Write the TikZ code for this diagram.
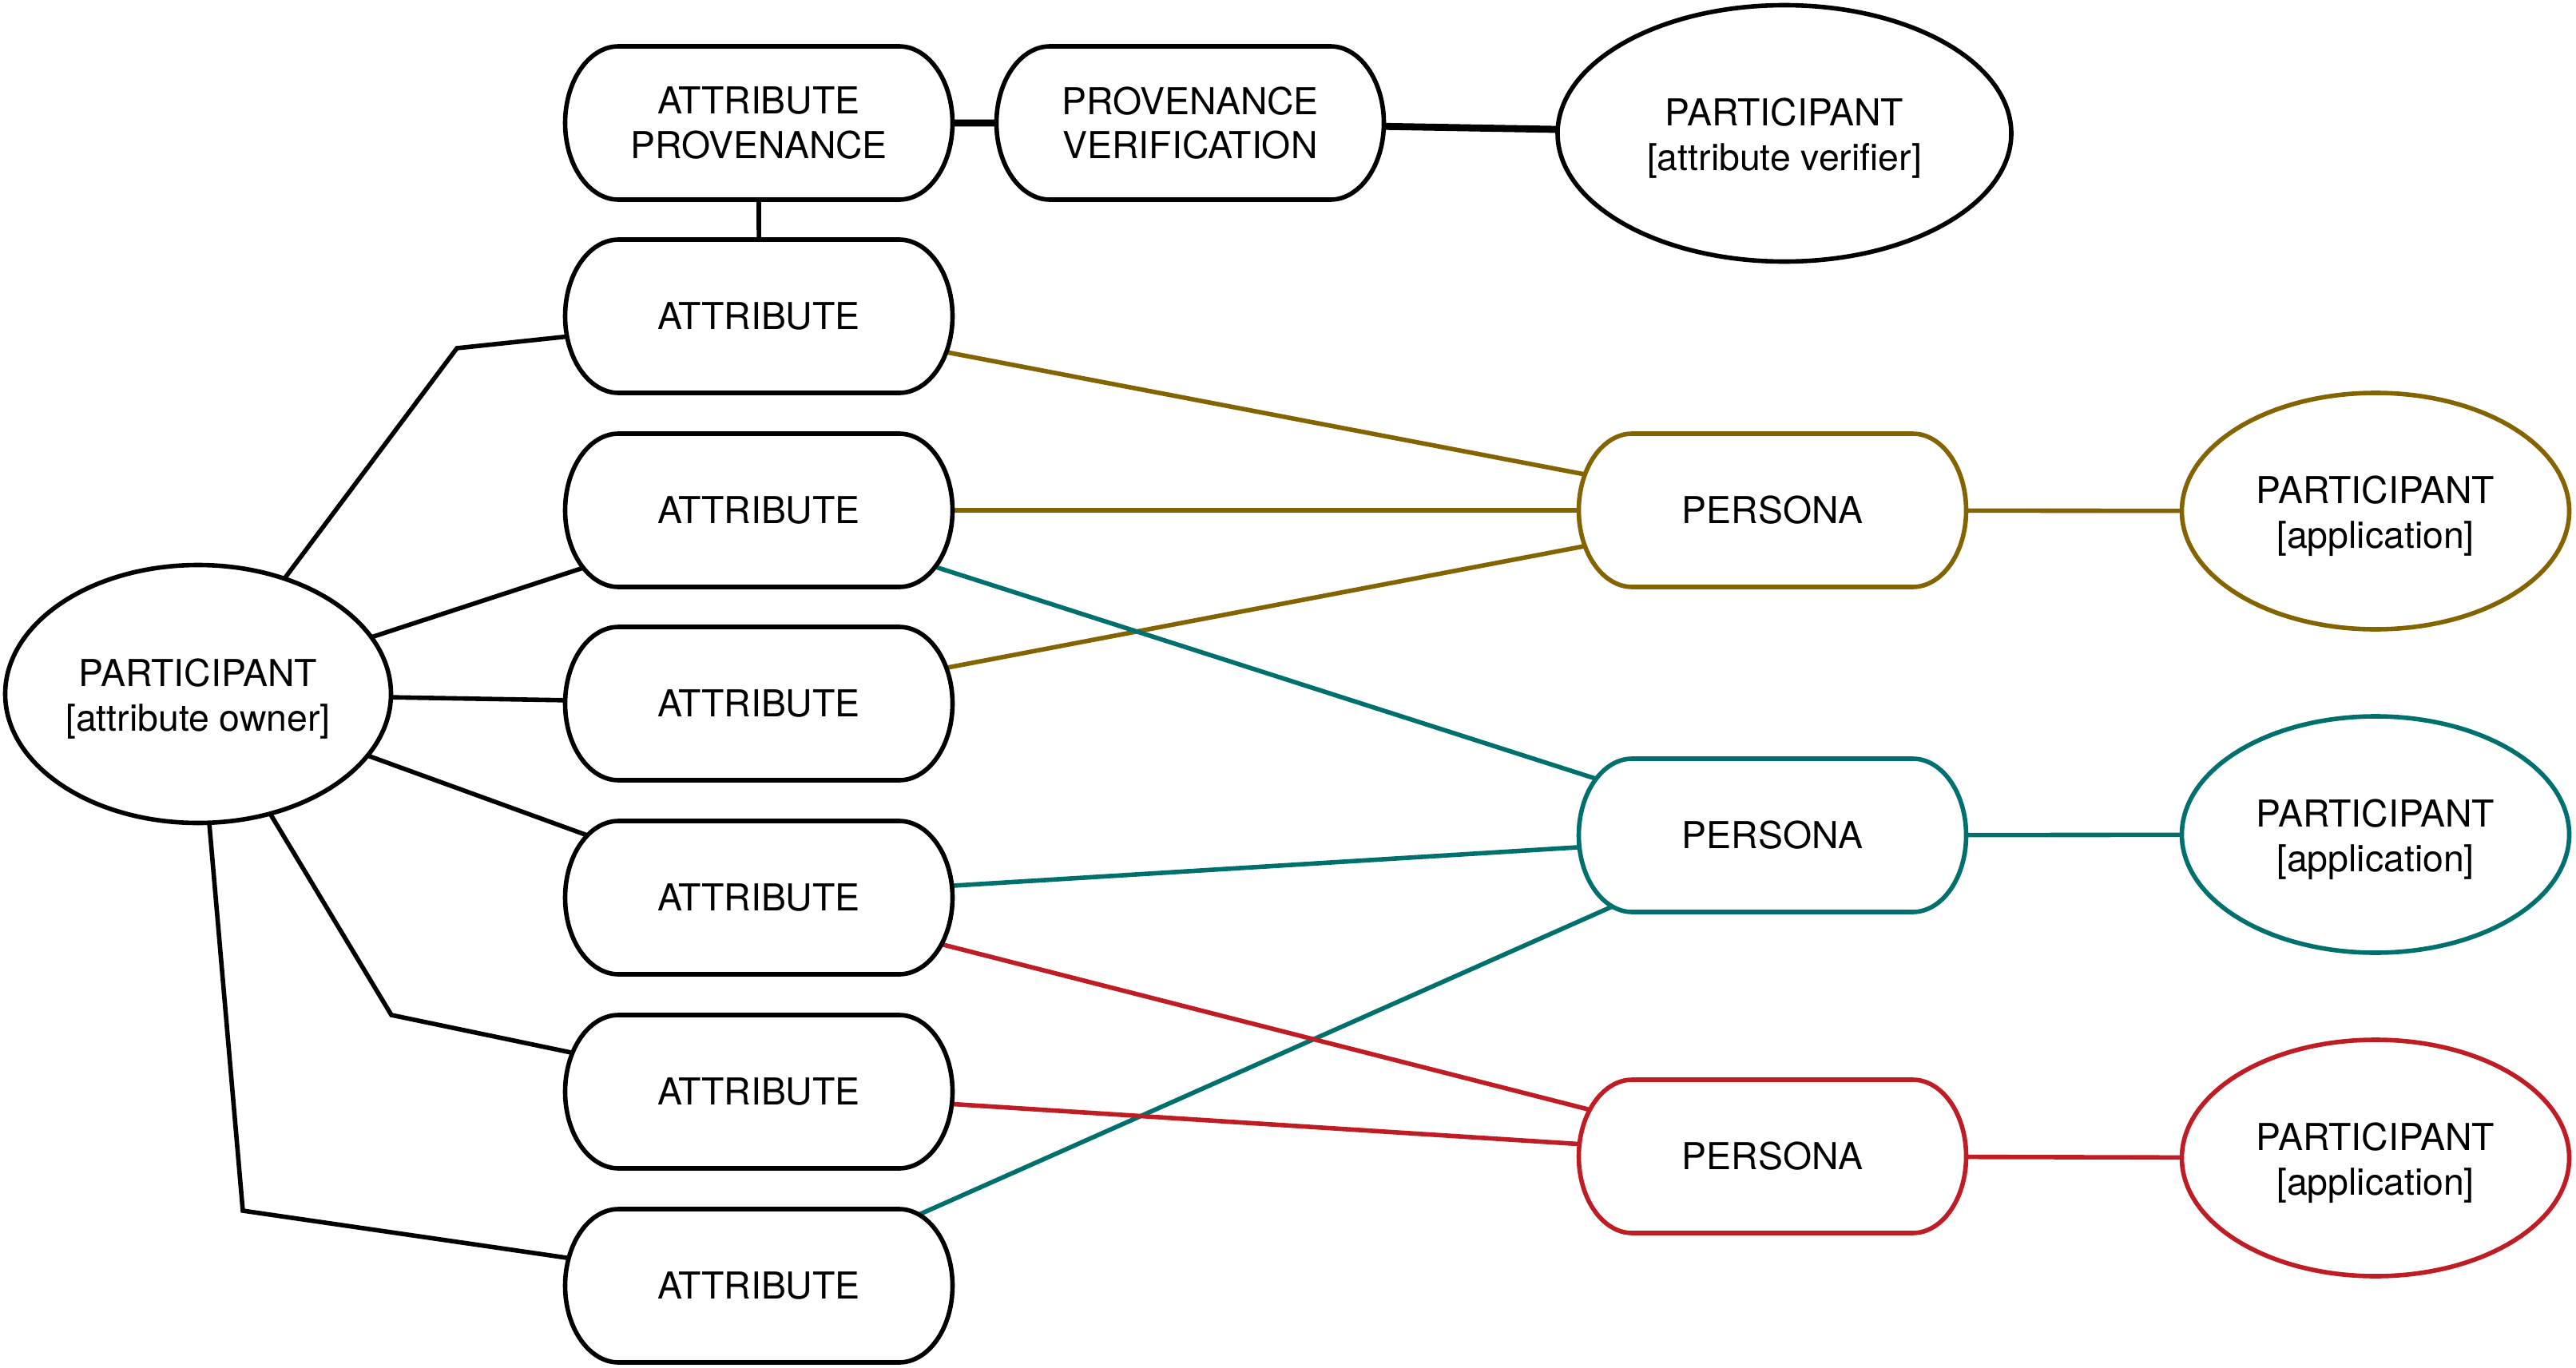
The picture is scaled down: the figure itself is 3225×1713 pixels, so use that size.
\documentclass[tikz,border=0pt]{standalone}
\usepackage{fontspec}
\setmainfont{TeX Gyre Heros}
\usetikzlibrary{shapes.geometric,shapes.misc,backgrounds}
\definecolor{gold}{RGB}{132,100,0}
\definecolor{tealc}{RGB}{0,112,110}
\definecolor{redc}{RGB}{192,28,36}
\newcommand\boxoutline[2]{%
  \draw[outl, draw=#2] ([shift={(-175.5,-96)}]#1.center) -- ([shift={(175.5,-96)}]#1.center)
    arc[start angle=90, end angle=-90, x radius=16.75pt, y radius=24pt]
    -- ([shift={(-175.5,96)}]#1.center)
    arc[start angle=270, end angle=90, x radius=16.75pt, y radius=24pt] -- cycle;}
\begin{document}
\begin{tikzpicture}[x=0.25pt,y=-0.25pt,
  every node/.style={font=\fontsize{11.6pt}{13.9pt}\selectfont, align=center, inner sep=0pt, outer sep=0pt},
  boxn/.style={rounded rectangle, minimum width=121.25pt, minimum height=48pt},
  outl/.style={line width=1.4pt, fill=white},
  ell/.style={ellipse, draw, line width=1.4pt, fill=white},
  conn/.style={line width=1.4pt},
  thickconn/.style={line width=2.2pt}]
\useasboundingbox (0,0) rectangle (3225,1713);

\node[boxn] (ap) at (950,154) {ATTRIBUTE\\PROVENANCE};
\node[boxn] (pv) at (1490,154) {PROVENANCE\\VERIFICATION};
\node[ell, minimum width=142pt, minimum height=80.25pt] (ver) at (2234,167) {};
\node (vert) at (2234,173) {PARTICIPANT\\{[attribute verifier]}};

\node[boxn] (a1) at (950,396) {ATTRIBUTE};
\node[boxn] (a2) at (950,639) {ATTRIBUTE};
\node[boxn] (a3) at (950,881) {ATTRIBUTE};
\node[boxn] (a4) at (950,1124) {ATTRIBUTE};
\node[boxn] (a5) at (950,1367) {ATTRIBUTE};
\node[boxn] (a6) at (950,1610) {ATTRIBUTE};

\node[ell, minimum width=120.75pt, minimum height=80.75pt] (own) at (248,869) {};
\node (ownt) at (248,875) {PARTICIPANT\\{[attribute owner]}};

\node[boxn] (p1) at (2219,639) {PERSONA};
\node[boxn] (p2) at (2219,1046) {PERSONA};
\node[boxn] (p3) at (2219,1448) {PERSONA};

\node[ell, draw=gold, minimum width=121.25pt, minimum height=74pt] (app1) at (2974,640) {};
\node (app1t) at (2974,646) {PARTICIPANT\\{[application]}};
\node[ell, draw=tealc, minimum width=121.25pt, minimum height=74pt] (app2) at (2974,1045) {};
\node (app2t) at (2974,1051) {PARTICIPANT\\{[application]}};
\node[ell, draw=redc, minimum width=121.25pt, minimum height=74pt] (app3) at (2974,1450) {};
\node (app3t) at (2974,1456) {PARTICIPANT\\{[application]}};

\coordinate (k1) at (572,436);
\coordinate (k5) at (490,1271);
\coordinate (k6) at (304,1516);

\begin{scope}[on background layer]
  \draw[conn] (own) -- (k1) -- (a1);
  \draw[conn] (own) -- (a2);
  \draw[conn] (own) -- (a3);
  \draw[conn] (own) -- (a4);
  \draw[conn] (own) -- (k5) -- (a5);
  \draw[conn] (own) -- (k6) -- (a6);
  \draw[conn] (a1) -- (ap);
  \draw[thickconn] (ap) -- (pv);
  \draw[thickconn] (pv) -- (ver);
  \draw[conn, gold] (a1) -- (p1);
  \draw[conn, gold] (a2) -- (p1);
  \draw[conn, gold] (a3) -- (p1);
  \draw[conn, gold] (p1) -- (app1);
  \draw[conn, tealc] (a2) -- (p2);
  \draw[conn, tealc] (a4) -- (p2);
  \draw[conn, tealc] (a6) -- (p2);
  \draw[conn, tealc] (p2) -- (app2);
  \draw[conn, redc] (a4) -- (p3);
  \draw[conn, redc] (a5) -- (p3);
  \draw[conn, redc] (p3) -- (app3);
  \boxoutline{ap}{black}
  \boxoutline{pv}{black}
  \boxoutline{a1}{black}
  \boxoutline{a2}{black}
  \boxoutline{a3}{black}
  \boxoutline{a4}{black}
  \boxoutline{a5}{black}
  \boxoutline{a6}{black}
  \boxoutline{p1}{gold}
  \boxoutline{p2}{tealc}
  \boxoutline{p3}{redc}
\end{scope}
\end{tikzpicture}
\end{document}
